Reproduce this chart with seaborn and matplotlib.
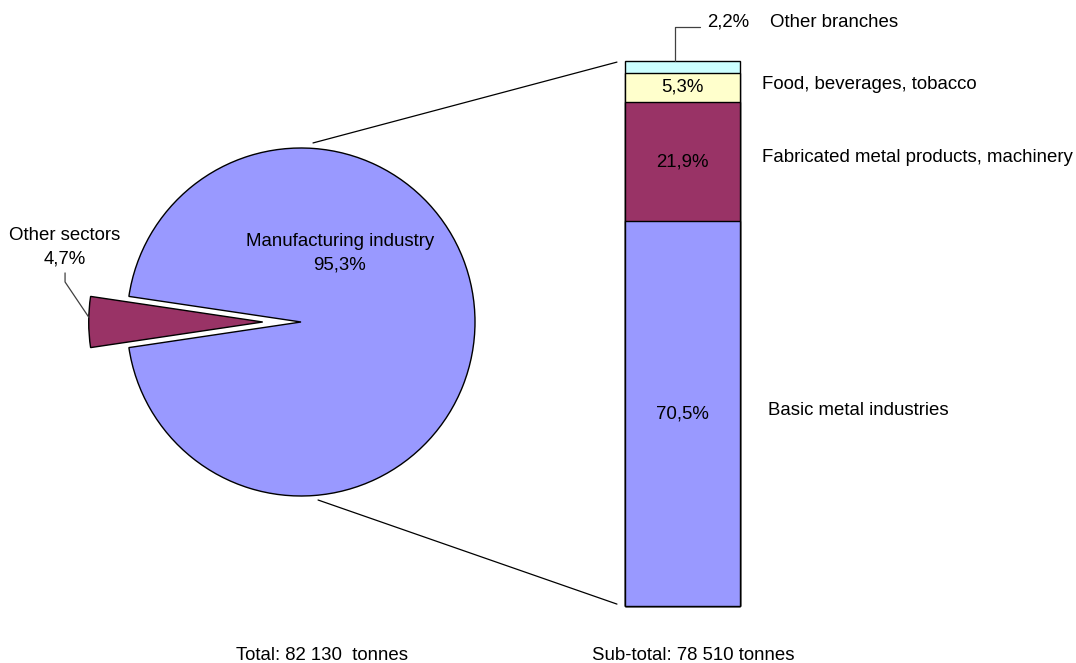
import numpy as np
import pandas as pd
import matplotlib
matplotlib.use("Agg")
import matplotlib.pyplot as plt
from matplotlib.patches import ConnectionPatch
import seaborn as sns

# Pie: total emissions split by sector
pie_labels = ["Other sectors", "Manufacturing industry"]
pie_values = [4.7, 95.3]

# Bar: breakdown of manufacturing industry (bottom to top)
branches = ["Basic metal industries", "Fabricated metal products, machinery",
            "Food, beverages, tobacco", "Other branches"]
branch_values = [70.5, 21.9, 5.3, 2.2]

total_text = "Total: 82 130  tonnes"
subtotal_text = "Sub-total: 78 510 tonnes"

BLUE = "#9999FF"
WINE = "#993366"
CREAM = "#FFFFCC"
CYAN = "#CCFFFF"
branch_colors = [BLUE, WINE, CREAM, CYAN]

sns.set_style("white")
plt.rcParams["font.family"] = ["Liberation Sans", "DejaVu Sans"]
plt.rcParams["text.color"] = "black"
FS = 13.4

W, H = 1076, 663
fig = plt.figure(figsize=(W / 100, H / 100), dpi=100)


def px_axes(left, top, width, height):
    return fig.add_axes([left / W, 1 - (top + height) / H, width / W, height / H])


def pct(v):
    return f"{v:.1f}%".replace(".", ",")


# ---- pie ----
pie_ax = px_axes(301 - 261, 322 - 261, 522, 522)
half = pie_values[0] * 3.6 / 2
pie_ax.pie(pie_values, colors=[WINE, BLUE], startangle=180 - half,
           explode=[0.22, 0], radius=1,
           wedgeprops=dict(edgecolor="black", linewidth=1.0))
pie_ax.set_xlim(-1.5, 1.5)
pie_ax.set_ylim(-1.5, 1.5)
pie_ax.set_aspect("equal")
pie_ax.axis("off")

pie_ax.text(0.224, 0.395, f"{pie_labels[1]}\n{pct(pie_values[1])}",
            ha="center", va="center", fontsize=FS, linespacing=1.5)
pie_ax.text(-1.356, 0.43, f"{pie_labels[0]}\n{pct(pie_values[0])}",
            ha="center", va="center", fontsize=FS, linespacing=1.45)
# leader for the detached wedge
pie_ax.plot([-1.356, -1.356, -1.218], [0.282, 0.230, 0.025],
            color="#404040", lw=0.9, clip_on=False)

# ---- stacked bar (overlapping cumulative bars) ----
bar_ax = px_axes(625, 61, 115, 545)
cum = np.cumsum(branch_values)
df = pd.DataFrame({"group": ["Manufacturing"] * len(branches),
                   "branch": branches, "cum": cum})
draw_order = branches[::-1]
sns.barplot(data=df, x="group", y="cum", hue="branch", hue_order=draw_order,
            palette=dict(zip(branches, branch_colors)), dodge=False,
            saturation=1, width=1.0, edgecolor="black", linewidth=1.0,
            legend=False, ax=bar_ax)
for p in bar_ax.patches:
    p.set_clip_on(False)
bar_ax.set_xlim(-0.5, 0.5)
bar_ax.set_ylim(0, cum[-1])
bar_ax.axis("off")

bottoms = cum - np.array(branch_values)
mids = bottoms + np.array(branch_values) / 2
tx = bar_ax.get_yaxis_transform()  # x in axes fraction, y in data
for i in range(3):
    bar_ax.text(0.0, mids[i], pct(branch_values[i]), ha="center", va="center",
                fontsize=FS)
bar_ax.text(1.243, mids[0] + 0.6, branches[0], transform=tx, ha="left",
            va="center", fontsize=FS)
bar_ax.text(1.191, mids[1] + 0.8, branches[1], transform=tx, ha="left",
            va="center", fontsize=FS)
bar_ax.text(1.191, mids[2] + 0.5, branches[2], transform=tx, ha="left",
            va="center", fontsize=FS)

# top branch label with elbow leader
y_top = cum[-1]
y_lab = y_top + 34 / 5.455
bar_ax.plot([0.435, 0.435, 0.652], [mids[3] + 1.1, y_lab, y_lab], transform=tx,
            color="#404040", lw=0.9, clip_on=False)
bar_ax.text(0.71, y_lab + 0.9, pct(branch_values[3]), transform=tx,
            ha="left", va="center", fontsize=FS)
bar_ax.text(1.26, y_lab + 0.9, branches[3], transform=tx,
            ha="left", va="center", fontsize=FS)

# ---- connectors between pie and bar ----
for (px, py), (bx, by) in [((0.069, 1.029), (-0.07, y_top - 0.2)),
                           ((0.098, -1.023), (-0.07, 0.35))]:
    con = ConnectionPatch(xyA=(px, py), coordsA=pie_ax.transData,
                          xyB=(bx, by), coordsB=tx,
                          color="black", lw=0.9)
    fig.add_artist(con)

fig.text(322 / W, 1 - 655 / H, total_text, ha="center", va="center", fontsize=FS)
fig.text(693 / W, 1 - 655 / H, subtotal_text, ha="center", va="center", fontsize=FS)

fig.savefig("out.png", dpi=100, facecolor="white")
